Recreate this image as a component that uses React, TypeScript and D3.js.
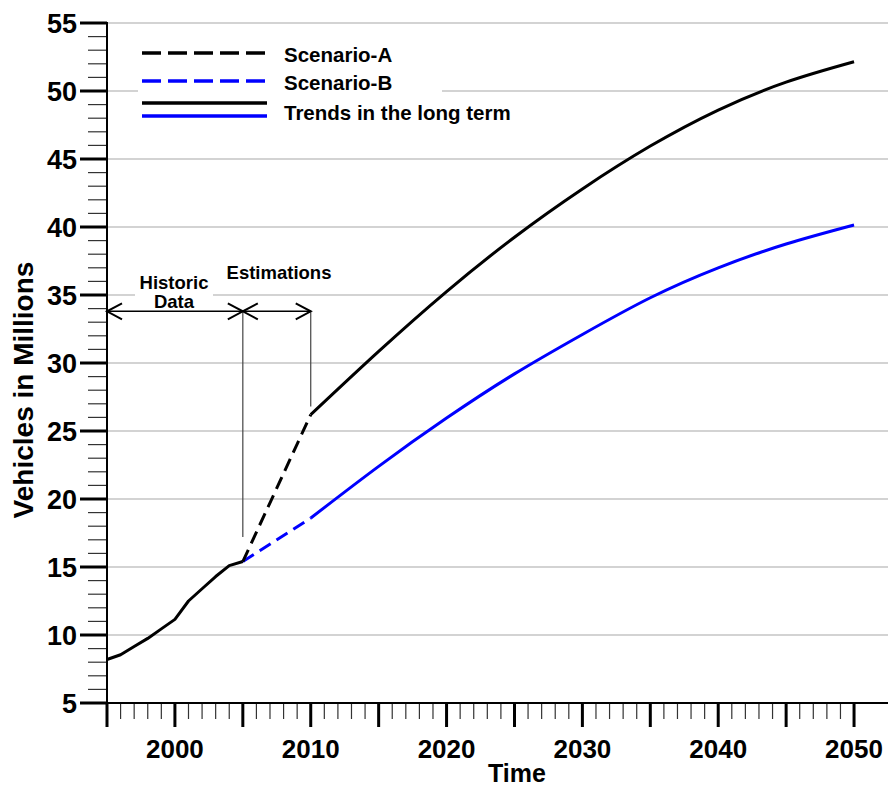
import React from "react";
import * as d3 from "d3";

const historicYears = [1995, 1996, 1997, 1998, 1999, 2000, 2001, 2002, 2003, 2004, 2005];
const historicValues = [8.2, 8.55, 9.15, 9.75, 10.45, 11.15, 12.5, 13.4, 14.3, 15.1, 15.4];

const scenarioYears = [2005, 2010];
const scenarioAValues = [15.4, 26.2];
const scenarioBValues = [15.4, 18.6];

const longYears = [2010, 2015, 2020, 2025, 2030, 2035, 2040, 2045, 2050];
const longAValues = [26.2, 30.85, 35.25, 39.25, 42.8, 45.95, 48.6, 50.65, 52.15];
const longBValues = [18.6, 22.4, 25.95, 29.2, 32.1, 34.8, 37.0, 38.75, 40.15];

const xTickLabels = [2000, 2010, 2020, 2030, 2040, 2050];
const yTickLabels = [5, 10, 15, 20, 25, 30, 35, 40, 45, 50, 55];

const legendItems = [
  { label: "Scenario-A", color: "#000", dash: true },
  { label: "Scenario-B", color: "#0000ff", dash: true },
  { label: "Trends in the long term", color: "#000", dash: false },
];

const FONT = "'Liberation Sans', Arial, Helvetica, sans-serif";

export default function App() {
  const W = 888, H = 787;
  const x = d3.scaleLinear().domain([1995, 2052.5]).range([107, 888]);
  const y = d3.scaleLinear().domain([5, 55]).range([703, 23]);

  const straight = d3.line<[number, number]>().x(d => x(d[0])).y(d => y(d[1]));
  const smooth = d3.line<[number, number]>().x(d => x(d[0])).y(d => y(d[1])).curve(d3.curveNatural);

  const zip = (a: number[], b: number[]) => a.map((v, i) => [v, b[i]] as [number, number]);

  const minorX = d3.range(1995, 2051, 1).filter(v => v % 5 !== 0);
  const majorX = d3.range(1995, 2051, 5);
  const minorY = d3.range(5, 56, 1).filter(v => v % 5 !== 0);

  const arrowY = y(33.8);
  const x05 = x(2005), x10 = x(2010), x95 = x(1995);
  const ah = 15, av = 8;

  return (
    <svg width={W} height={H} style={{ position: "absolute", left: 0, top: 0, background: "#fff" }} fontFamily={FONT}>
      {/* grid */}
      {yTickLabels.filter(v => v > 5).map(v => (
        <line key={"g" + v} x1={x(1995)} x2={W} y1={y(v)} y2={y(v)} stroke="#a8a8a8" strokeWidth={1.2} />
      ))}
      {/* legend background */}
      <rect x={138} y={35} width={304} height={100} fill="#fff" />
      {/* historic label background */}
      <rect x={135} y={270} width={78} height={42} fill="#fff" />

      {/* y axis ticks */}
      {minorY.map(v => (
        <line key={"my" + v} x1={88} x2={107} y1={y(v)} y2={y(v)} stroke="#333" strokeWidth={1.2} />
      ))}
      {yTickLabels.map(v => (
        <g key={"yy" + v}>
          <line x1={80} x2={107} y1={y(v)} y2={y(v)} stroke="#000" strokeWidth={3} />
          <text x={77} y={y(v)} dy="0.36em" textAnchor="end" fontSize={27} fontWeight="bold">{v}</text>
        </g>
      ))}
      {/* x axis ticks */}
      {minorX.map(v => (
        <line key={"mx" + v} x1={x(v)} x2={x(v)} y1={704} y2={719} stroke="#333" strokeWidth={1.2} />
      ))}
      {majorX.map(v => (
        <line key={"Mx" + v} x1={x(v)} x2={x(v)} y1={703} y2={727} stroke="#000" strokeWidth={3} />
      ))}
      {xTickLabels.map(v => (
        <text key={"xl" + v} x={x(v)} y={758} textAnchor="middle" fontSize={26} fontWeight="bold">{v}</text>
      ))}
      {/* axes lines */}
      <line x1={107} x2={107} y1={y(55) - 1} y2={704} stroke="#000" strokeWidth={2} />
      <line x1={106} x2={W} y1={703} y2={703} stroke="#000" strokeWidth={2} />

      {/* axis titles */}
      <text x={517} y={782} textAnchor="middle" fontSize={25} fontWeight="bold">Time</text>
      <text transform={`translate(33,390) rotate(-90)`} textAnchor="middle" fontSize={28} fontWeight="bold">Vehicles in Millions</text>

      {/* annotations */}
      <line x1={x95} x2={x10} y1={arrowY} y2={arrowY} stroke="#000" strokeWidth={1.5} />
      <line x1={x05} x2={x05} y1={arrowY} y2={y(17.2)} stroke="#444" strokeWidth={1.2} />
      <line x1={x10} x2={x10} y1={arrowY} y2={y(26.8)} stroke="#444" strokeWidth={1.2} />
      {[
        [x95, 1], [x05, -1], [x05, 1], [x10, -1],
      ].map(([px, dir], i) => (
        <path key={"ah" + i} d={`M${px + dir * ah},${arrowY - av} L${px},${arrowY} L${px + dir * ah},${arrowY + av}`} fill="none" stroke="#000" strokeWidth={2} />
      ))}
      <text x={174} y={289} textAnchor="middle" fontSize={18.5} fontWeight="bold">Historic</text>
      <text x={174} y={308} textAnchor="middle" fontSize={18.5} fontWeight="bold">Data</text>
      <text x={279} y={279} textAnchor="middle" fontSize={18.5} fontWeight="bold">Estimations</text>

      {/* data lines */}
      <path d={straight(zip(historicYears, historicValues))!} fill="none" stroke="#000" strokeWidth={3} strokeLinejoin="round" />
      <path d={straight(zip(scenarioYears, scenarioBValues))!} fill="none" stroke="#0000ff" strokeWidth={3} strokeDasharray="13,7" />
      <path d={straight(zip(scenarioYears, scenarioAValues))!} fill="none" stroke="#000" strokeWidth={3} strokeDasharray="13,7" />
      <path d={smooth(zip(longYears, longBValues))!} fill="none" stroke="#0000ff" strokeWidth={3} />
      <path d={smooth(zip(longYears, longAValues))!} fill="none" stroke="#000" strokeWidth={3} />

      {/* legend */}
      <line x1={142} x2={267} y1={53} y2={53} stroke={legendItems[0].color} strokeWidth={3.5} strokeDasharray="19,7" />
      <text x={284} y={54.5} dy="0.36em" fontSize={20.5} fontWeight="bold">{legendItems[0].label}</text>
      <line x1={142} x2={267} y1={81} y2={81} stroke={legendItems[1].color} strokeWidth={3.5} strokeDasharray="19,7" />
      <text x={284} y={82.5} dy="0.36em" fontSize={20.5} fontWeight="bold">{legendItems[1].label}</text>
      <line x1={142} x2={267} y1={103} y2={103} stroke="#000" strokeWidth={3.5} />
      <line x1={142} x2={267} y1={116} y2={116} stroke="#0000ff" strokeWidth={3.5} />
      <text x={284} y={112.5} dy="0.36em" fontSize={20.5} fontWeight="bold">{legendItems[2].label}</text>
    </svg>
  );
}
